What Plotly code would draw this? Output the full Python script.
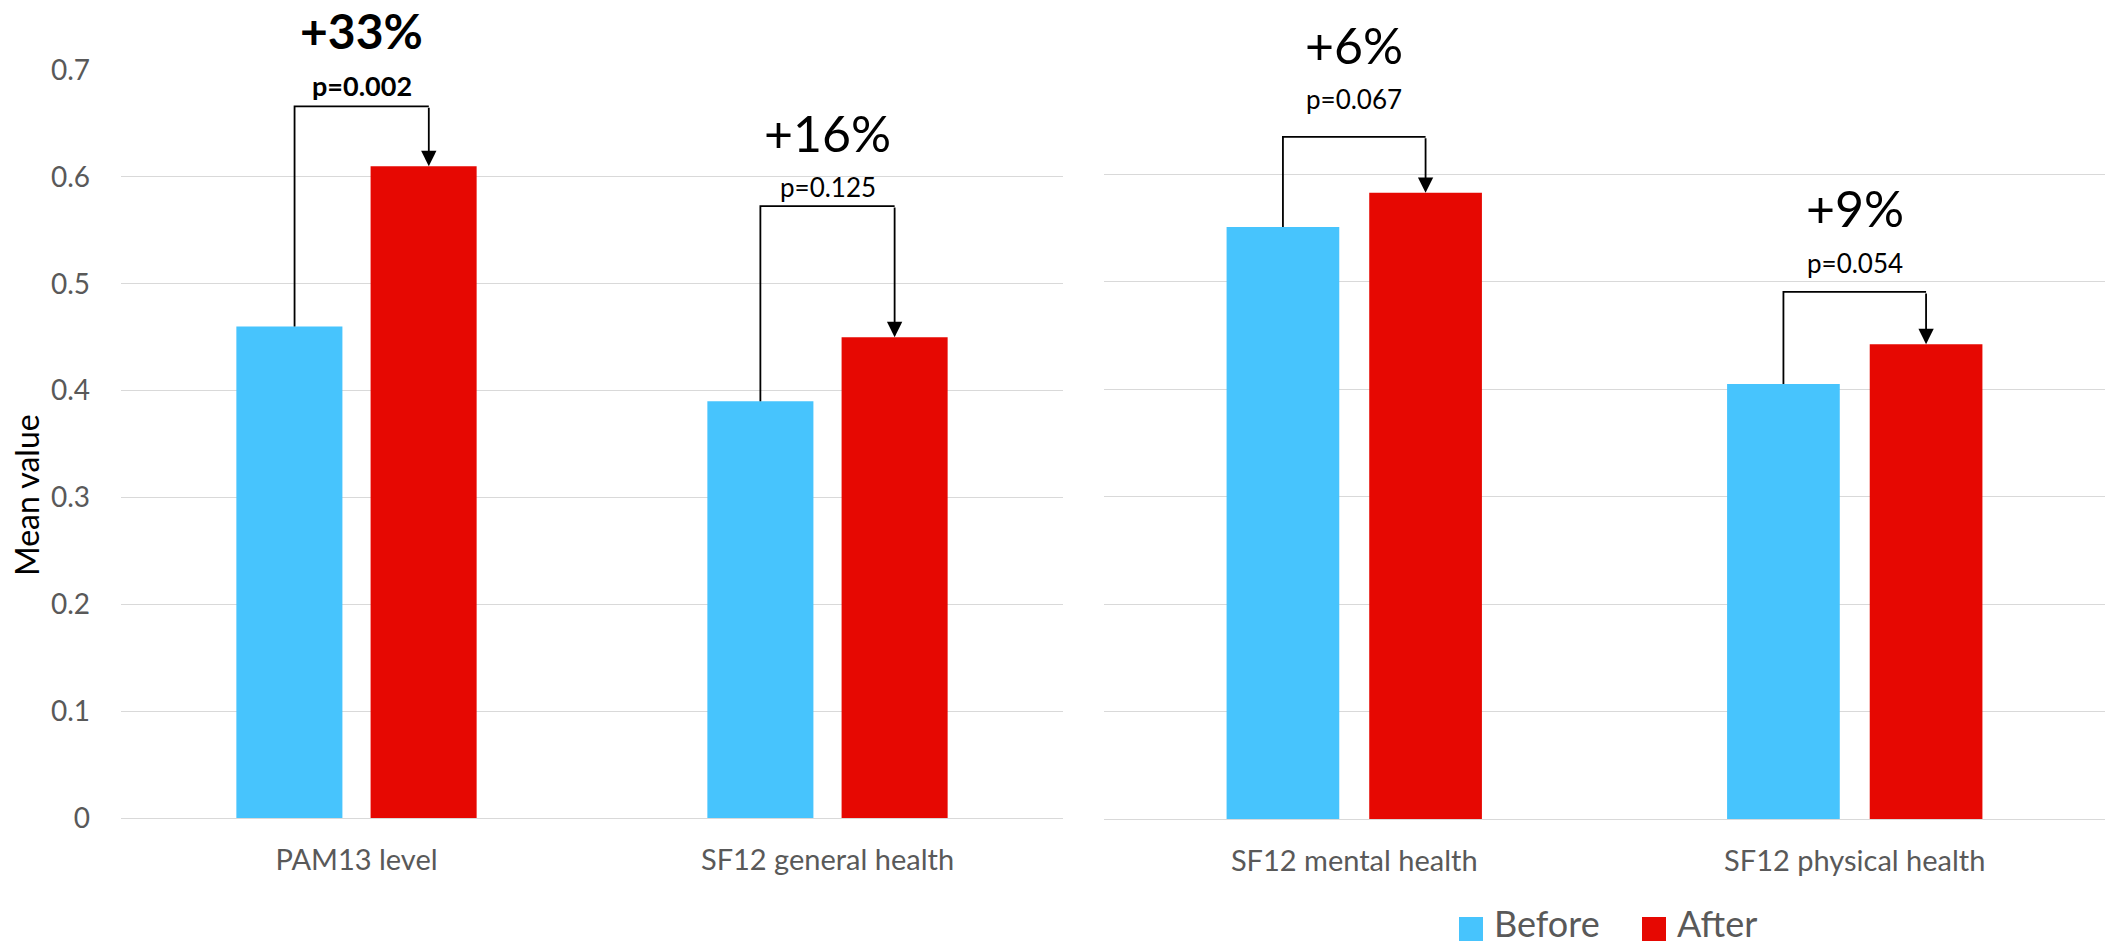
import plotly.graph_objects as go

# ---- data ----
categories_left = ["PAM13 level", "SF12 general health"]
categories_right = ["SF12 mental health", "SF12 physical health"]
before_left = [0.46, 0.39]
after_left = [0.61, 0.45]
before_right = [0.551, 0.405]
after_right = [0.583, 0.442]
series_names = ["Before", "After"]
pct_labels = ["+33%", "+16%", "+6%", "+9%"]
p_labels = ["p=0.002", "p=0.125", "p=0.067", "p=0.054"]
bold_flags = [True, False, False, False]
y_ticks = [0, 0.1, 0.2, 0.3, 0.4, 0.5, 0.6, 0.7]
y_ticklabels = ["0", "0.1", "0.2", "0.3", "0.4", "0.5", "0.6", "0.7"]

# ---- layout settings (not data) ----
bracket_y = [0.666, 0.5727, 0.635, 0.4906]
bracket_dx = [0.011, 0.0, 0.0, 0.0]
pct_shift = [76, 73, 92, 84]
p_shift = [21, 19, 38, 29]

C_BEFORE = "#47C4FD"
C_AFTER = "#E60802"
GRID = "#D9D9D9"
TXT = "#595959"
FONT = "Lato"

W, H = 2114, 946
BARGAP = 0.43
BARGROUPGAP = 0.21
OFF = (1 - BARGAP) / 4  # center offset of each bar within group

fig = go.Figure()
fig.add_trace(go.Bar(x=categories_left, y=before_left, name=series_names[0],
                     marker=dict(color=C_BEFORE, line=dict(width=0)),
                     xaxis="x", yaxis="y", showlegend=False))
fig.add_trace(go.Bar(x=categories_left, y=after_left, name=series_names[1],
                     marker=dict(color=C_AFTER, line=dict(width=0)),
                     xaxis="x", yaxis="y", showlegend=False))
fig.add_trace(go.Bar(x=categories_right, y=before_right, name=series_names[0],
                     marker=dict(color=C_BEFORE, line=dict(width=0)),
                     xaxis="x2", yaxis="y2", showlegend=False))
fig.add_trace(go.Bar(x=categories_right, y=after_right, name=series_names[1],
                     marker=dict(color=C_AFTER, line=dict(width=0)),
                     xaxis="x2", yaxis="y2", showlegend=False))

shapes = []
annotations = []
panels = [("x", "y", before_left, after_left), ("x2", "y2", before_right, after_right)]
k = 0
for xr, yr, bvals, avals in panels:
    for i in range(len(bvals)):
        xb = i - OFF + bracket_dx[k]
        xa = i + OFF + bracket_dx[k]
        xc = (xa + xb) / 2
        yt = bracket_y[k]
        shapes.append(dict(type="path", xref=xr, yref=yr,
                           path=f"M {xb},{bvals[i]} L {xb},{yt} L {xa},{yt}",
                           line=dict(color="black", width=1.8)))
        annotations.append(dict(x=xa, y=avals[i], ax=xa, ay=yt, xref=xr, yref=yr,
                                axref=xr, ayref=yr, text="", showarrow=True,
                                arrowhead=2, arrowsize=1.7, arrowwidth=1.8,
                                arrowcolor="black"))
        bw = "bold" if bold_flags[k] else "normal"
        annotations.append(dict(x=xc, y=yt, xref=xr, yref=yr, text=pct_labels[k],
                                showarrow=False, yshift=pct_shift[k], yanchor="middle",
                                font=dict(family=FONT, size=48 if bold_flags[k] else 50,
                                          color="black", weight=bw)))
        annotations.append(dict(x=xc, y=yt, xref=xr, yref=yr, text=p_labels[k],
                                showarrow=False, yshift=p_shift[k], yanchor="middle",
                                font=dict(family=FONT, size=27 if bold_flags[k] else 26,
                                          color="black", weight=bw)))
        k += 1

# y-axis title
annotations.append(dict(x=26 / W, y=1 - 495 / H, xref="paper", yref="paper",
                        text="Mean value", textangle=-90, showarrow=False,
                        xanchor="center", yanchor="middle",
                        font=dict(family=FONT, size=32, color="black")))

# manual legend
leg = [(1459, series_names[0], C_BEFORE), (1642, series_names[1], C_AFTER)]
for x0, name, col in leg:
    shapes.append(dict(type="rect", xref="paper", yref="paper",
                       x0=x0 / W, x1=(x0 + 24) / W, y0=1 - 941 / H, y1=1 - 917 / H,
                       fillcolor=col, line=dict(width=0)))
    annotations.append(dict(x=(x0 + 34) / W, y=0, xref="paper", yref="paper",
                            text=name, showarrow=False, xanchor="left", yanchor="bottom",
                            borderpad=0,
                            font=dict(family=FONT, size=36, color=TXT)))

yaxis_common = dict(range=[0, 0.7], tickvals=y_ticks, ticktext=y_ticklabels,
                    showgrid=True, gridcolor=GRID, gridwidth=1.3,
                    zeroline=True, zerolinecolor=GRID, zerolinewidth=1.3,
                    showline=False, ticks="", fixedrange=True, automargin=False)

xaxis_common = dict(type="category", showgrid=False, showline=False, ticks="",
                    ticklabelstandoff=22, automargin=False,
                    tickfont=dict(family=FONT, size=29, color=TXT))

fig.update_layout(
    template="none",
    width=W, height=H,
    margin=dict(l=0, r=0, t=0, b=0, pad=0, autoexpand=False),
    paper_bgcolor="white", plot_bgcolor="white",
    barmode="group", bargap=BARGAP, bargroupgap=BARGROUPGAP,
    showlegend=False,
    font=dict(family=FONT, color=TXT),
    xaxis=dict(domain=[121 / W, 1063 / W], anchor="y", **xaxis_common),
    xaxis2=dict(domain=[1104 / W, 2105 / W], anchor="y2", **xaxis_common),
    yaxis=dict(domain=[1 - 818 / H, 1 - 70 / H], anchor="x",
               tickfont=dict(family=FONT, size=28, color=TXT),
               ticklabelstandoff=30, **yaxis_common),
    yaxis2=dict(domain=[1 - 819 / H, 1 - 67 / H], anchor="x2",
                showticklabels=False, **yaxis_common),
    shapes=shapes,
    annotations=annotations,
)

fig.write_html("out.html")
